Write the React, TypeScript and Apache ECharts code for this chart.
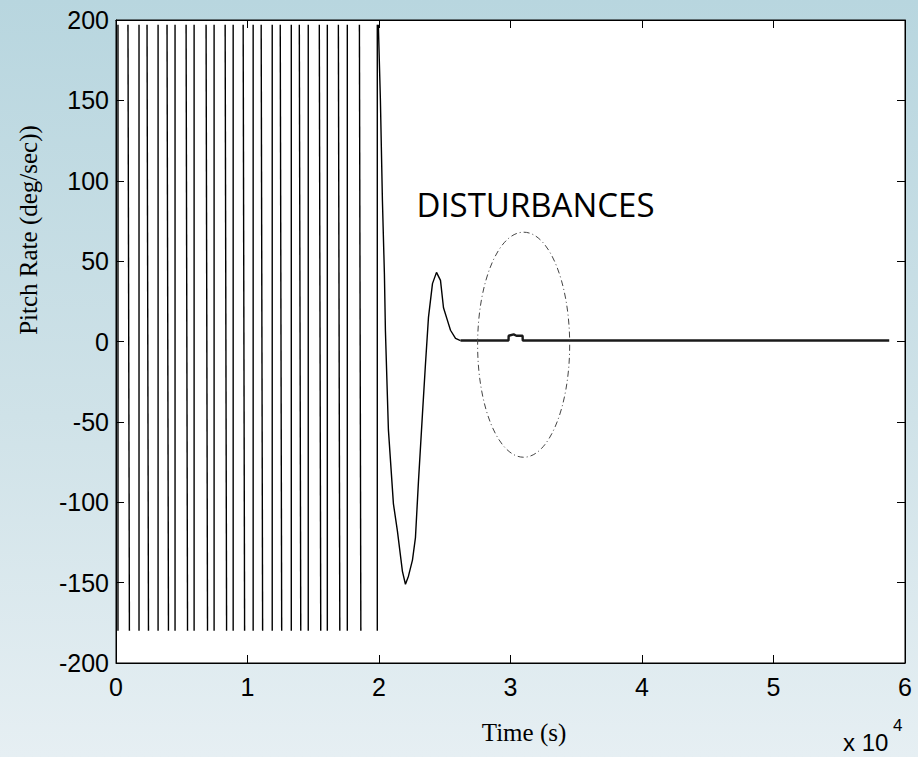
import React, { useEffect, useRef } from "react";
import * as echarts from "echarts";

// ---------- data (time in seconds, pitch rate in deg/sec) ----------
// limit-cycle oscillation: times of the near-vertical swings
const strokeTimes = [
  150, 910, 1750, 2360, 3200, 3880, 4490, 5330, 5940, 6850, 7460, 8300, 8910,
  9670, 10430, 11040, 11880, 12490, 13330, 13940, 14620, 15460, 16070, 16910,
  17590, 18510, 19870,
];
const swingHigh = 197;
const swingLow = -180;

// damped transient after control engages
const transientTimes = [
  19950, 20107, 20259, 20411, 20487, 20716, 21097, 21401, 21782, 22011, 22239,
  22544, 22772, 23001, 23305, 23534, 23762, 24067, 24372, 24676, 24905, 25210,
  25438, 25819, 26200,
];
const transientValues = [
  197, 150, 88, 42, 7, -55, -101, -118, -143, -151, -146, -136, -122, -87, -45,
  -14, 15, 36, 43, 38, 21, 13, 7, 2, 0.6,
];

// settled response with small disturbance bump
const settledTimes = [26200, 29850, 29860, 30240, 30450, 30920, 30930, 58800];
const settledValues = [0.6, 0.6, 3.6, 4.4, 3.6, 3.6, 0.6, 0.6];

// annotation ellipse (data units)
const disturbanceCenter = [31000, -2];
const disturbanceHalfTime = 3500;
const disturbanceHalfRate = 70;
const annotationLabel = "DISTURBANCES";
const annotationAnchor = [31900, 85];

const xTickLabels = ["0", "1", "2", "3", "4", "5", "6"];
const xMin = 0;
const xMax = 60000;
const xStep = 10000;
const yMin = -200;
const yMax = 200;
const yStep = 50;

const yTitle = "Pitch Rate (deg/sec))";
const xTitle = "Time (s)";

export default function App() {
  const ref = useRef<HTMLDivElement>(null);

  useEffect(() => {
    if (!ref.current) return;
    const chart = echarts.init(ref.current, undefined, { renderer: "svg" });

    const strokeSeries = strokeTimes.map((t, i) => ({
      type: "line",
      xAxisIndex: 0,
      yAxisIndex: 0,
      data:
        i % 2 === 0
          ? [
              [t, swingLow],
              [t, swingHigh],
            ]
          : [
              [t, swingHigh],
              [t + 110, swingLow],
            ],
      symbol: "none",
      clip: true,
      lineStyle: { color: "#000", width: 1.4 },
    }));
    const transData = transientTimes.map((t, i) => [t, transientValues[i]]);
    const settledData = settledTimes.map((t, i) => [t, settledValues[i]]);

    const axisFont = "Liberation Sans, Arial, sans-serif";
    const baseX = {
      type: "value",
      min: xMin,
      max: xMax,
      interval: xStep,
      splitLine: { show: false },
      axisLine: { show: true, onZero: false, lineStyle: { color: "#000", width: 1 } },
      axisTick: { show: true, inside: true, length: 8, lineStyle: { color: "#000" } },
    };
    const baseY = {
      type: "value",
      min: yMin,
      max: yMax,
      interval: yStep,
      splitLine: { show: false },
      axisLine: { show: true, onZero: false, lineStyle: { color: "#000", width: 1 } },
      axisTick: { show: true, inside: true, length: 8, lineStyle: { color: "#000" } },
    };

    chart.setOption({
      animation: false,
      backgroundColor: "transparent",
      grid: {
        left: 116,
        right: 13,
        top: 20,
        bottom: 94,
        show: true,
        backgroundColor: "#ffffff",
        borderColor: "#000",
        borderWidth: 1,
      },
      xAxis: [
        {
          ...baseX,
          position: "bottom",
          axisLabel: {
            show: true,
            color: "#000",
            fontSize: 25,
            fontFamily: axisFont,
            margin: 11,
            showMinLabel: true,
            showMaxLabel: true,
            formatter: (v: number) => xTickLabels[Math.round((v - xMin) / xStep)] ?? "",
          },
        },
        { ...baseX, position: "top", axisLabel: { show: false } },
      ],
      yAxis: [
        {
          ...baseY,
          position: "left",
          axisLabel: {
            show: true,
            color: "#000",
            fontSize: 25,
            fontFamily: axisFont,
            margin: 7,
            showMinLabel: true,
            showMaxLabel: true,
          },
        },
        { ...baseY, position: "right", axisLabel: { show: false } },
      ],
      series: [
        ...strokeSeries,
        {
          type: "line",
          xAxisIndex: 0,
          yAxisIndex: 0,
          data: transData,
          symbol: "none",
          clip: true,
          lineStyle: { color: "#000", width: 1.4 },
        },
        {
          type: "line",
          xAxisIndex: 0,
          yAxisIndex: 0,
          data: settledData,
          symbol: "none",
          clip: true,
          lineStyle: { color: "#1a1a1a", width: 2.4 },
        },
      ],
    });

    const c = chart.convertToPixel({ gridIndex: 0 }, disturbanceCenter) as number[];
    const e = chart.convertToPixel({ gridIndex: 0 }, [
      disturbanceCenter[0] + disturbanceHalfTime,
      disturbanceCenter[1] + disturbanceHalfRate,
    ]) as number[];
    const a = chart.convertToPixel({ gridIndex: 0 }, annotationAnchor) as number[];

    chart.setOption({
      graphic: [
        {
          type: "ellipse",
          shape: { cx: c[0], cy: c[1], rx: e[0] - c[0], ry: c[1] - e[1] },
          style: { fill: "none", stroke: "#444", lineWidth: 1, lineDash: [6, 3, 1, 3] },
          z: 100,
        },
        {
          type: "text",
          x: a[0],
          y: a[1],
          style: {
            text: annotationLabel,
            font: "33px 'Open Sans', 'Noto Sans', sans-serif",
            fill: "#000",
            align: "center",
            verticalAlign: "middle",
          },
          z: 100,
        },
        {
          type: "text",
          x: 28,
          y: 230,
          rotation: Math.PI / 2,
          style: {
            text: yTitle,
            font: "25px 'Liberation Serif', 'Times New Roman', serif",
            fill: "#000",
            align: "center",
            verticalAlign: "middle",
          },
        },
        {
          type: "text",
          x: 524,
          y: 732,
          style: {
            text: xTitle,
            font: "25px 'Liberation Serif', 'Times New Roman', serif",
            fill: "#000",
            align: "center",
            verticalAlign: "middle",
          },
        },
        {
          type: "text",
          x: 843,
          y: 742,
          style: {
            text: "x 10",
            font: "24px 'Liberation Sans', Arial, sans-serif",
            fill: "#000",
            align: "left",
            verticalAlign: "middle",
          },
        },
        {
          type: "text",
          x: 893,
          y: 725,
          style: {
            text: "4",
            font: "17px 'Liberation Sans', Arial, sans-serif",
            fill: "#000",
            align: "left",
            verticalAlign: "middle",
          },
        },
      ],
    });

    return () => chart.dispose();
  }, []);

  return (
    <div
      style={{
        position: "fixed",
        left: 0,
        top: 0,
        width: 918,
        height: 757,
        background: "linear-gradient(to bottom, #b8d6df 0%, #cfe2e8 55%, #e6eff3 100%)",
      }}
    >
      <div ref={ref} style={{ width: 918, height: 757 }} />
    </div>
  );
}
